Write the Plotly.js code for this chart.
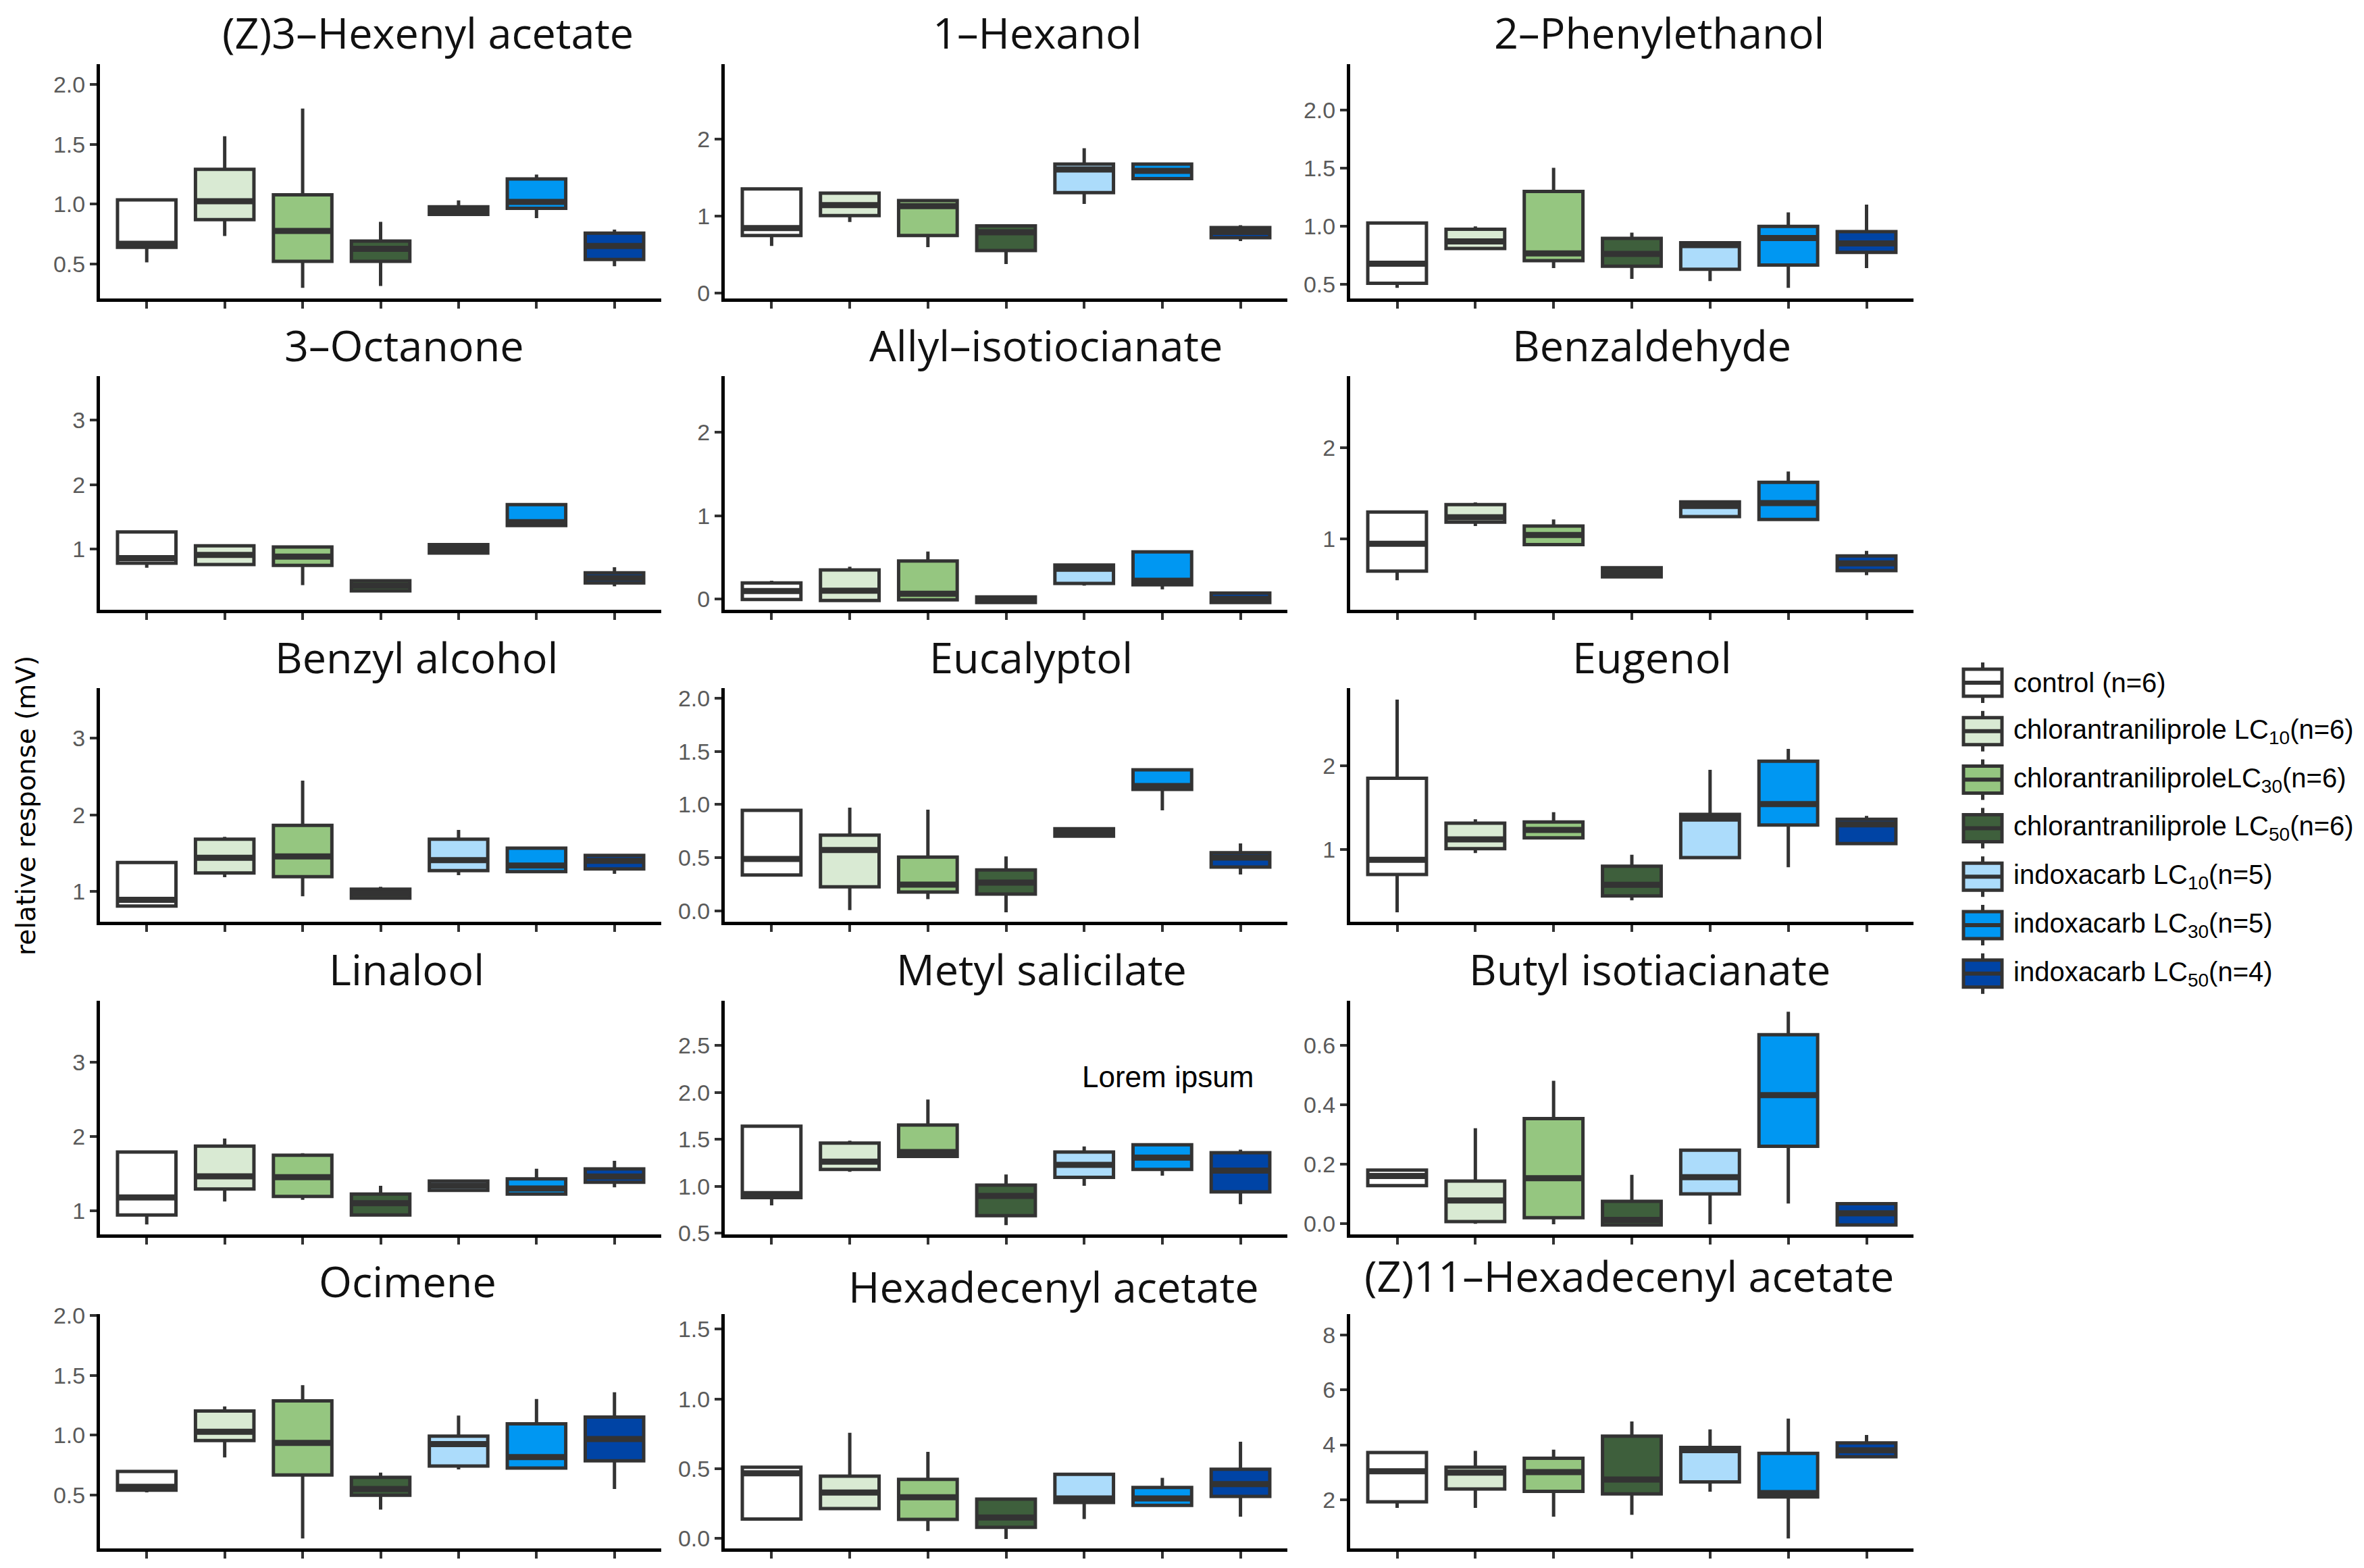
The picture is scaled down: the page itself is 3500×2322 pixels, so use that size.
<!DOCTYPE html>
<html>
<head>
<meta charset="utf-8">
<script src="https://cdn.plot.ly/plotly-3.0.1.min.js"></script>
<style>html,body{margin:0;padding:0;background:#fff;}#chart{width:3500px;height:2322px;}</style>
</head>
<body>
<div id="chart"></div>
<script>
// ---------------- DATA ----------------
const compounds = ["(Z)3–Hexenyl acetate","1–Hexanol","2–Phenylethanol","3–Octanone","Allyl–isotiocianate","Benzaldehyde","Benzyl alcohol","Eucalyptol","Eugenol","Linalool","Metyl salicilate","Butyl isotiacianate","Ocimene","Hexadecenyl acetate","(Z)11–Hexadecenyl acetate"];
const groups = ["control (n=6)","chlorantraniliprole LC<sub>10</sub>(n=6)","chlorantraniliproleLC<sub>30</sub>(n=6)","chlorantraniliprole LC<sub>50</sub>(n=6)","indoxacarb LC<sub>10</sub>(n=5)","indoxacarb LC<sub>30</sub>(n=5)","indoxacarb LC<sub>50</sub>(n=4)"];

// rows = compounds, columns = groups
const lowerWhisker = [
 [0.515,0.735,0.303,0.318,0.916,0.885,0.483],
 [0.613,0.925,0.598,0.379,1.159,1.486,0.677],
 [0.469,0.808,0.640,0.547,0.527,0.469,0.640],
 [0.713,0.762,0.441,0.330,0.940,1.341,0.424],
 [-0.003,-0.016,-0.008,-0.040,0.162,0.118,-0.040],
 [0.548,1.143,0.938,0.570,1.247,1.215,0.604],
 [0.788,1.185,0.935,0.912,1.212,1.259,1.229],
 [0.322,0.008,0.110,-0.013,0.690,0.946,0.343],
 [0.243,0.955,1.138,0.387,0.886,0.784,1.068],
 [0.812,1.122,1.146,0.918,1.273,1.222,1.313],
 [0.796,1.154,1.317,0.585,1.005,1.113,0.808],
 [0.125,0.000,-0.002,-0.004,-0.002,0.068,-0.004],
 [0.524,0.815,0.140,0.380,0.715,0.727,0.552],
 [0.129,0.205,0.053,-0.003,0.140,0.237,0.156],
 [1.700,1.700,1.377,1.443,2.288,0.581,3.562]
];
const q1 = [
 [0.641,0.872,0.524,0.524,0.916,0.966,0.539],
 [0.750,1.007,0.750,0.554,1.305,1.486,0.721],
 [0.508,0.808,0.704,0.655,0.630,0.665,0.775],
 [0.783,0.762,0.749,0.354,0.940,1.366,0.476],
 [-0.003,-0.016,-0.008,-0.040,0.189,0.172,-0.040],
 [0.649,1.185,0.938,0.585,1.247,1.215,0.654],
 [0.809,1.241,1.191,0.912,1.271,1.259,1.294],
 [0.338,0.227,0.178,0.159,0.703,1.143,0.413],
 [0.697,1.008,1.138,0.440,0.900,1.292,1.068],
 [0.940,1.292,1.191,0.940,1.273,1.222,1.383],
 [0.878,1.180,1.317,0.686,1.094,1.180,0.940],
 [0.128,0.007,0.020,-0.004,0.100,0.260,-0.004],
 [0.543,0.956,0.669,0.500,0.744,0.727,0.787],
 [0.140,0.214,0.137,0.080,0.258,0.237,0.301],
 [1.919,2.387,2.305,2.207,2.650,2.099,3.562]
];
const median = [
 [0.670,1.026,0.778,0.628,0.947,1.019,0.652],
 [0.846,1.144,1.130,0.790,1.605,1.588,0.794],
 [0.677,0.869,0.766,0.762,0.837,0.898,0.851],
 [0.860,0.912,0.885,0.434,1.007,1.419,0.553],
 [0.097,0.102,0.065,-0.008,0.365,0.221,0.005],
 [0.948,1.239,1.044,0.634,1.363,1.395,0.733],
 [0.890,1.438,1.456,0.971,1.409,1.338,1.400],
 [0.489,0.573,0.248,0.267,0.745,1.175,0.502],
 [0.873,1.119,1.233,0.573,1.368,1.543,1.300],
 [1.177,1.462,1.450,1.100,1.337,1.298,1.460],
 [0.916,1.262,1.365,0.897,1.228,1.305,1.166],
 [0.160,0.078,0.153,0.013,0.156,0.432,0.035],
 [0.571,1.029,0.937,0.552,0.927,0.818,0.969],
 [0.467,0.329,0.295,0.150,0.287,0.287,0.390],
 [3.034,2.985,3.002,2.732,3.808,2.239,3.800]
];
const q3 = [
 [1.037,1.291,1.079,0.693,0.979,1.211,0.759],
 [1.354,1.299,1.203,0.873,1.675,1.675,0.852],
 [1.027,0.973,1.299,0.895,0.857,0.998,0.953],
 [1.268,1.052,1.035,0.511,1.070,1.691,0.633],
 [0.194,0.350,0.458,0.027,0.409,0.566,0.073],
 [1.296,1.378,1.143,0.686,1.407,1.622,0.815],
 [1.377,1.682,1.862,1.029,1.682,1.565,1.470],
 [0.946,0.713,0.506,0.385,0.773,1.327,0.548],
 [1.852,1.314,1.328,0.797,1.419,2.057,1.360],
 [1.790,1.870,1.747,1.222,1.398,1.428,1.562],
 [1.641,1.461,1.653,1.012,1.365,1.442,1.358],
 [0.180,0.143,0.353,0.075,0.247,0.635,0.067],
 [0.699,1.203,1.287,0.650,0.993,1.096,1.152],
 [0.511,0.447,0.424,0.282,0.460,0.366,0.496],
 [3.717,3.182,3.512,4.315,3.906,3.685,4.069]
];
const upperWhisker = [
 [1.037,1.568,1.799,0.854,1.032,1.248,0.788],
 [1.354,1.299,1.203,0.873,1.880,1.675,0.882],
 [1.027,0.998,1.502,0.944,0.857,1.119,1.186],
 [1.268,1.052,1.050,0.511,1.070,1.691,0.720],
 [0.221,0.388,0.571,0.027,0.409,0.566,0.073],
 [1.296,1.402,1.215,0.686,1.407,1.741,0.871],
 [1.377,1.712,2.447,1.060,1.803,1.565,1.470],
 [0.946,0.971,0.952,0.512,0.773,1.340,0.635],
 [2.798,1.360,1.446,0.935,1.955,2.206,1.400],
 [1.790,1.973,1.775,1.335,1.398,1.565,1.672],
 [1.641,1.486,1.925,1.125,1.425,1.442,1.389],
 [0.180,0.321,0.480,0.164,0.247,0.712,0.067],
 [0.699,1.240,1.418,0.689,1.165,1.302,1.358],
 [0.511,0.758,0.621,0.290,0.460,0.435,0.693],
 [3.717,3.783,3.823,4.850,4.562,4.956,4.357]
];
const yTickVals = [
 [0.5,1,1.5,2],[0,1,2],[0.5,1,1.5,2],[1,2,3],[0,1,2],[1,2],[1,2,3],[0,0.5,1,1.5,2],
 [1,2],[1,2,3],[0.5,1,1.5,2,2.5],[0,0.2,0.4,0.6],[0.5,1,1.5,2],[0,0.5,1,1.5],[2,4,6,8]
];
const yTitle = "relative response (mV)";
const noteText = "Lorem ipsum";

// ---------------- STYLE / LAYOUT CONFIG ----------------
const fills = ["#ffffff","#d9ead3","#95c680","#3e5f3c","#acdcfb","#0097f2","#0044a5"];
const yRanges = [
 [0.214,2.169],[-0.067,2.97],[0.378,2.394],[0.06,3.684],[-0.127,2.672],[0.224,2.787],
 [0.603,3.656],[-0.102,2.095],[0.13,2.935],[0.678,3.832],[0.486,2.978],[-0.036,0.749],
 [0.057,2.01],[-0.071,1.608],[0.22,8.77]
];
const yFormats = [".1f","",".1f","","","","",".1f","","",".1f",".1f",".1f",".1f",""];
const W = 3500, H = 2322;
const colL = [148,1073,1999], colR = [979,1906,2833];
const rowT = [95,557,1019,1482,1946], rowB = [442,903,1365,1828,2293];
const titleCx = [633,1536,2456,598,1548,2445,617,1526,2446,602,1542,2442,603,1560,null];
const titleCy = [48,48,48,510,510,510,972,972,972,1434,1434,1434,1897,1904,1897];
const FONT = "Liberation Sans, Arial, sans-serif";
const TFONT = "Open Sans, Liberation Sans, sans-serif";
const TSIZE = 63;
const BOXW = 0.75;

const traces = [];
const annotations = [];
const shapes = [];
const layout = {
  width: W, height: H,
  margin: {l:0, r:0, t:0, b:0},
  paper_bgcolor: "#ffffff", plot_bgcolor: "#ffffff",
  showlegend: false,
  boxmode: "overlay",
  font: {family: FONT, color: "#000"}
};

compounds.forEach((name, i) => {
  const r = Math.floor(i / 3), c = i % 3;
  const sfx = i === 0 ? "" : String(i + 1);
  const xa = "x" + sfx, ya = "y" + sfx;
  layout["xaxis" + sfx] = {
    domain: [colL[c] / W, colR[c] / W], range: [0.4, 7.6], anchor: ya,
    showline: true, linecolor: "#000", linewidth: 5, mirror: false,
    ticks: "outside", ticklen: 10, tickwidth: 4, tickcolor: "#333",
    tickmode: "array", tickvals: groups.map((g, k) => k + 1), showticklabels: false,
    showgrid: false, zeroline: false, fixedrange: true
  };
  layout["yaxis" + sfx] = {
    domain: [1 - rowB[r] / H, 1 - rowT[r] / H], range: yRanges[i], anchor: xa,
    showline: true, linecolor: "#000", linewidth: 5,
    ticks: "outside", ticklen: 10, tickwidth: 4, tickcolor: "#333",
    tickmode: "array", tickvals: yTickVals[i], tickformat: yFormats[i],
    tickfont: {family: FONT, size: 34, color: "#5a5a5a"},
    showgrid: false, zeroline: false, fixedrange: true
  };
  groups.forEach((g, k) => {
    traces.push({
      type: "box", xaxis: xa, yaxis: ya, name: g,
      x: [k + 1],
      q1: [q1[i][k]], median: [median[i][k]], q3: [q3[i][k]],
      lowerfence: [lowerWhisker[i][k]], upperfence: [upperWhisker[i][k]],
      width: BOXW, whiskerwidth: 0, boxpoints: false,
      fillcolor: fills[k], line: {color: "#333333", width: 5},
      hoverinfo: "skip", showlegend: false
    });
  });
  // thick median bars (ggplot style)
  const mx = [], my = [];
  groups.forEach((g, k) => {
    mx.push(k + 1 - BOXW / 2, k + 1 + BOXW / 2, null);
    my.push(median[i][k], median[i][k], null);
  });
  traces.push({type: "scatter", mode: "lines", xaxis: xa, yaxis: ya, x: mx, y: my,
    line: {color: "#333333", width: 9}, hoverinfo: "skip", showlegend: false, cliponaxis: false});

  if (titleCx[i] !== null) {
    annotations.push({xref: "paper", yref: "paper", x: titleCx[i] / W, y: 1 - titleCy[i] / H,
      xanchor: "center", yanchor: "middle", showarrow: false, text: name,
      font: {family: TFONT, size: TSIZE, color: "#111"}});
  } else {
    // clipped title (cut at panel's right edge as in the original)
    layout.xaxis16 = {domain: [colL[c] / W, colR[c] / W], range: [colL[c], colR[c]], visible: false, anchor: "y16", fixedrange: true};
    layout.yaxis16 = {domain: [1 - 1950 / H, 1 - 1845 / H], range: [0, 1], visible: false, anchor: "x16", fixedrange: true};
    traces.push({type: "scatter", mode: "text", xaxis: "x16", yaxis: "y16", x: [2020], y: [(1950 - titleCy[i]) / 105],
      text: [name], textposition: "middle right", cliponaxis: true,
      textfont: {family: TFONT, size: TSIZE, color: "#111"}, hoverinfo: "skip", showlegend: false});
  }
});

// "Lorem ipsum" note inside Metyl salicilate panel
annotations.push({xref: "paper", yref: "paper", x: 1729 / W, y: 1 - 1594 / H, xanchor: "center", yanchor: "middle",
  showarrow: false, text: noteText, font: {family: FONT, size: 44, color: "#000"}});

// y-axis title
annotations.push({xref: "paper", yref: "paper", x: 38 / W, y: 1 - 1193 / H, xanchor: "center", yanchor: "middle",
  showarrow: false, textangle: -90, text: yTitle, font: {family: "DejaVu Sans, sans-serif", size: 39, color: "#000"}});

// legend (ggplot-style keys)
groups.forEach((g, k) => {
  const cy = 1011 + 71.8 * k;
  const X0 = 2907, X1 = 2964, XC = 2935.5;
  const py = v => 1 - v / H, px = v => v / W;
  shapes.push({type: "line", xref: "paper", yref: "paper", x0: px(XC), x1: px(XC), y0: py(cy - 30), y1: py(cy + 30), line: {color: "#333", width: 5}});
  shapes.push({type: "rect", xref: "paper", yref: "paper", x0: px(X0), x1: px(X1), y0: py(cy - 20), y1: py(cy + 20), fillcolor: fills[k], line: {color: "#333", width: 5}});
  shapes.push({type: "line", xref: "paper", yref: "paper", x0: px(X0), x1: px(X1), y0: py(cy), y1: py(cy), line: {color: "#333", width: 6}});
  annotations.push({xref: "paper", yref: "paper", x: px(2979), y: py(cy), xanchor: "left", yanchor: "middle",
    showarrow: false, text: g, font: {family: FONT, size: 40, color: "#000"}});
});

layout.annotations = annotations;
layout.shapes = shapes;

Plotly.newPlot("chart", traces, layout, {staticPlot: true, displayModeBar: false});
</script>
</body>
</html>
